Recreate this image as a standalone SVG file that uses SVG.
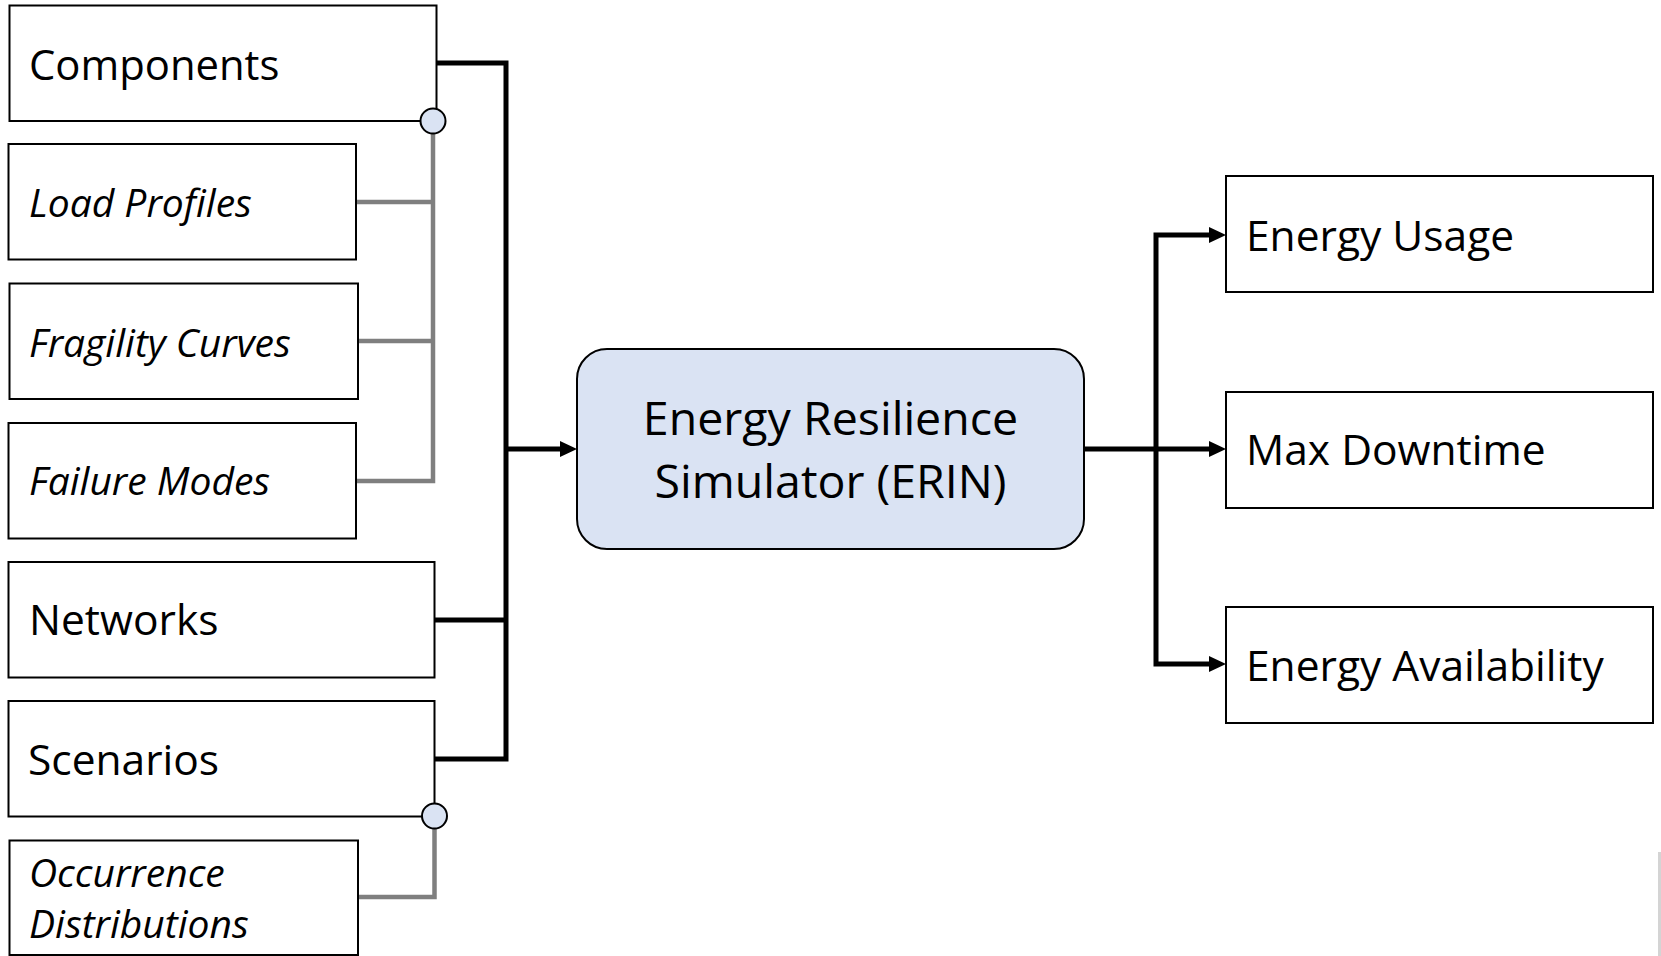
<svg xmlns="http://www.w3.org/2000/svg" width="1661" height="956" viewBox="0 0 1661 956">
<style>
.box{fill:#fff;stroke:#000;stroke-width:2}
.erin{fill:#dae3f3;stroke:#000;stroke-width:2}
.t{font-family:"Open Sans","Noto Sans",sans-serif;font-size:42.5px;fill:#000}
.ti{font-family:"Open Sans","Noto Sans",sans-serif;font-size:39px;font-style:italic;fill:#000}
.te{font-family:"Open Sans","Noto Sans",sans-serif;font-size:46.5px;fill:#000;text-anchor:middle}
.blk{fill:none;stroke:#000;stroke-width:5;stroke-linejoin:miter}
.gry{fill:none;stroke:#7f7f7f;stroke-width:4.5;stroke-linejoin:miter}
.dot{fill:#dae3f3;stroke:#000;stroke-width:2}
</style>
<defs>
<marker id="arr" markerUnits="userSpaceOnUse" markerWidth="20" markerHeight="18" refX="3" refY="8" orient="auto">
<path d="M0,0 L17,8 L0,16 Z" fill="#000"/>
</marker>
</defs>
<rect x="0" y="0" width="1661" height="956" fill="#fff"/>
<g id="connectors">
<path class="gry" d="M433,121 V481 H356"/>
<path class="gry" d="M433,202 H356"/>
<path class="gry" d="M433,341 H358"/>
<path class="gry" d="M434.5,816 V897 H358"/>
<path class="blk" d="M436,63 H506 V759 H434.5"/>
<path class="blk" d="M434.5,620 H506"/>
<path class="blk" d="M506,449 H563" marker-end="url(#arr)"/>
<path class="blk" d="M1084,449 H1212" marker-end="url(#arr)"/>
<path class="blk" d="M1156,449 V235 H1212" marker-end="url(#arr)"/>
<path class="blk" d="M1156,449 V664 H1212" marker-end="url(#arr)"/>
</g>
<g id="components">
<rect class="box" x="9.5" y="5.5" width="427" height="115.5"/>
<text class="t" x="29" y="80" style="font-size:41.8px">Components</text>
</g>
<g id="load-profiles">
<rect class="box" x="8.5" y="144" width="347.5" height="115.5"/>
<text class="ti" x="29" y="217">Load Profiles</text>
</g>
<g id="fragility-curves">
<rect class="box" x="9.5" y="283.5" width="348.5" height="115.5"/>
<text class="ti" x="29" y="357">Fragility Curves</text>
</g>
<g id="failure-modes">
<rect class="box" x="8.5" y="423" width="347.5" height="115.5"/>
<text class="ti" x="29" y="495">Failure Modes</text>
</g>
<g id="networks">
<rect class="box" x="8.5" y="562" width="426" height="115.5"/>
<text class="t" x="29" y="635">Networks</text>
</g>
<g id="scenarios">
<rect class="box" x="8.5" y="701" width="426" height="115.5"/>
<text class="t" x="28" y="775">Scenarios</text>
</g>
<g id="occurrence-distributions">
<rect class="box" x="9.5" y="840.5" width="348.5" height="114.5"/>
<text class="ti" x="29" y="887">Occurrence</text>
<text class="ti" x="29" y="938">Distributions</text>
</g>
<g id="junction-components">
<circle class="dot" cx="433" cy="121" r="12.5"/>
</g>
<g id="junction-scenarios">
<circle class="dot" cx="434.5" cy="816" r="12.5"/>
</g>
<g id="erin">
<rect class="erin" x="577" y="349" width="507" height="200" rx="30" ry="30"/>
<text class="te" x="830.5" y="435">Energy Resilience</text>
<text class="te" x="830.5" y="498">Simulator (ERIN)</text>
</g>
<g id="energy-usage">
<rect class="box" x="1226" y="176" width="427" height="116"/>
<text class="t" x="1246" y="251">Energy Usage</text>
</g>
<g id="max-downtime">
<rect class="box" x="1226" y="392" width="427" height="116"/>
<text class="t" x="1246" y="465">Max Downtime</text>
</g>
<g id="energy-availability">
<rect class="box" x="1226" y="607" width="427" height="116"/>
<text class="t" x="1246" y="681">Energy Availability</text>
</g>
<rect x="1658" y="852" width="3" height="104" fill="#d4d4d4"/>
</svg>
